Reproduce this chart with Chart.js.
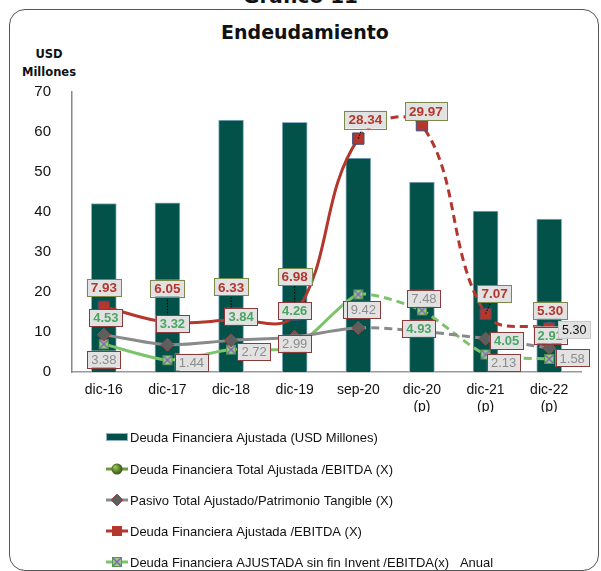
<!DOCTYPE html>
<html>
<head>
<meta charset="utf-8">
<script src="https://cdn.jsdelivr.net/npm/chart.js@4.4.1/dist/chart.umd.min.js"></script>
<style>
    html, body { margin: 0; padding: 0; background: #fff; overflow: hidden; }
    #wrap { position: relative; width: 601px; height: 571px; }
    #frame { position: absolute; left: 9px; top: 9px; width: 588px; height: 560px; border: 1.5px solid #555; border-radius: 16px; }
    #chart { position: absolute; left: 0; top: 0; }
    .txt { position: absolute; font-family: 'DejaVu Sans', sans-serif; font-weight: bold; color: #111; white-space: nowrap; }
    #topTitle { left: 0; width: 601px; text-align: center; top: -14px; font-size: 20px; line-height: 20px; }
    #title { left: 10px; width: 590px; text-align: center; top: 21px; font-size: 19px; line-height: 22px; }
    #unit { left: 14px; width: 70px; text-align: center; top: 45px; font-size: 11.5px; line-height: 18px; }
</style>
</head>
<body>
<div id="wrap">
    <div id="frame"></div>
    <div class="txt" id="topTitle">Gráfico 11</div>
    <div class="txt" id="title">Endeudamiento</div>
    <div class="txt" id="unit">USD<br>Millones</div>
    <canvas id="chart" width="601" height="571"></canvas>
</div>
<script>
    const categories = ['dic-16', 'dic-17', 'dic-18', 'dic-19', 'sep-20', ['dic-20', '(p)'], ['dic-21', '(p)'], ['dic-22', '(p)']];
    const deudaUsd = [42.1, 42.3, 63.0, 62.4, 53.5, 47.5, 40.2, 38.2];
    const totalAjEbitda = [null, null, null, null, null, null, null, 5.30];
    const pasivoPatrimonio = [4.53, 3.32, 3.84, 4.26, 5.36, 4.93, 4.05, 2.91];
    const deudaEbitda = [7.93, 6.05, 6.33, 6.98, 28.34, 29.97, 7.07, 5.30];
    const sinInventEbitda = [3.38, 1.44, 2.72, 2.99, 9.42, 7.48, 2.13, 1.58];
    const legendNames = [
        'Deuda Financiera Ajustada (USD Millones)',
        'Deuda Financiera Total Ajustada /EBITDA (X)',
        'Pasivo Total Ajustado/Patrimonio Tangible (X)',
        'Deuda Financiera Ajustada /EBITDA (X)',
        'Deuda Financiera AJUSTADA sin fin Invent /EBITDA(x)   Anual'
    ];

    const FONT = "'Liberation Sans', Arial, sans-serif";
    const projected = ctx => ctx.p0DataIndex >= 4 ? [8, 5] : undefined;

    function crossMarker() {
        const c = document.createElement('canvas');
        c.width = 12; c.height = 12;
        const g = c.getContext('2d');
        g.fillStyle = '#8fd27c';
        g.fillRect(1, 1, 10, 10);
        g.strokeStyle = '#5b9a4c';
        g.lineWidth = 1;
        g.strokeRect(1.5, 1.5, 9, 9);
        g.strokeStyle = '#8a5cc0';
        g.lineWidth = 1.4;
        g.beginPath();
        g.moveTo(2, 2); g.lineTo(10, 10);
        g.moveTo(10, 2); g.lineTo(2, 10);
        g.stroke();
        return c;
    }
    const xMark = crossMarker();

    // label boxes: offsets from the point, per dataset index
    const labelSets = [
        { ds: 2, font: 'bold 13px ' + FONT, color: '#4ba562', border: '#8b3a3a',
          off: [[2, -17], [5, -21], [10, -24], [0, -26], [1, -18], [-3, -3], [21, 2], [1, -13]] },
        { ds: 4, font: '13px ' + FONT, color: '#8c8c8c', border: '#8b3a3a',
          off: [[0, 15], [24, 2], [23, 2], [0, -4], [5, 15], [2, -12], [18, 8], [23, -1]] },
        { ds: 3, font: 'bold 13.5px ' + FONT, color: '#b3372c', border: '#7b8a4b', leader: true,
          off: [[0, -19], [0, -34], [0, -33], [0, -38], [7, -19], [4, -14], [9, -20], [1, -18]] },
        { ds: 1, font: '12.5px ' + FONT, color: '#111', border: '#c8c8c8',
          off: [[0, 0], [0, 0], [0, 0], [0, 0], [0, 0], [0, 0], [0, 0], [25, 1]] }
    ];

    const labelPlugin = {
        id: 'boxLabels',
        afterDatasetsDraw(chart) {
            const ctx = chart.ctx;
            const items = [];
            labelSets.forEach(set => {
                const meta = chart.getDatasetMeta(set.ds);
                const data = chart.data.datasets[set.ds].data;
                meta.data.forEach((pt, i) => {
                    if (data[i] === null || data[i] === undefined) return;
                    items.push({ set, px: pt.x, py: pt.y, x: pt.x + set.off[i][0], y: pt.y + set.off[i][1], text: data[i].toFixed(2) });
                });
            });
            ctx.save();
            // dotted leader lines
            ctx.strokeStyle = '#000';
            ctx.lineWidth = 1;
            ctx.setLineDash([1.5, 1.5]);
            items.forEach(it => {
                if (!it.set.leader) return;
                if (Math.hypot(it.x - it.px, it.y - it.py) < 20) return;
                ctx.beginPath();
                ctx.moveTo(it.px, it.py);
                ctx.lineTo(it.x, it.y);
                ctx.stroke();
            });
            ctx.setLineDash([]);
            items.forEach(it => {
                ctx.font = it.set.font;
                const w = ctx.measureText(it.text).width + 8;
                const h = it.text.length > 4 ? 18 : 17;
                ctx.fillStyle = '#e2e2e2';
                ctx.fillRect(it.x - w / 2, it.y - h / 2, w, h);
                ctx.strokeStyle = it.set.border;
                ctx.lineWidth = 1;
                ctx.strokeRect(Math.round(it.x - w / 2) + 0.5, Math.round(it.y - h / 2) + 0.5, Math.round(w), h);
                ctx.fillStyle = it.set.color;
                ctx.textAlign = 'center';
                ctx.textBaseline = 'middle';
                ctx.fillText(it.text, it.x, it.y + 1);
            });
            ctx.restore();
        }
    };

    const legendPlugin = {
        id: 'stackLegend',
        afterDraw(chart) {
            const ctx = chart.ctx;
            const x0 = 106, x1 = 128, cx = 117;
            const rows = [437, 469, 500, 531, 562];
            ctx.save();
            // bar swatch
            ctx.fillStyle = '#02524a';
            ctx.fillRect(x0, rows[0] - 4, x1 - x0, 8);
            ctx.strokeStyle = '#8fb0c8';
            ctx.lineWidth = 1;
            ctx.strokeRect(x0 + 0.5, rows[0] - 3.5, x1 - x0 - 1, 7);
            // line swatches
            const lines = [[rows[1], '#6f9a3a'], [rows[2], '#8a8a8a'], [rows[3], '#b3372c'], [rows[4], '#7dc36b']];
            lines.forEach(([y, c]) => {
                ctx.strokeStyle = c;
                ctx.lineWidth = 3;
                ctx.beginPath();
                ctx.moveTo(x0, y);
                ctx.lineTo(x1, y);
                ctx.stroke();
            });
            const grad = ctx.createRadialGradient(cx - 2, rows[1] - 2, 1, cx, rows[1], 6);
            grad.addColorStop(0, '#8fc04a');
            grad.addColorStop(1, '#2f4a1a');
            ctx.fillStyle = grad;
            ctx.beginPath();
            ctx.arc(cx, rows[1], 5.5, 0, Math.PI * 2);
            ctx.fill();
            ctx.fillStyle = '#5e5e5e';
            ctx.strokeStyle = '#a04848';
            ctx.lineWidth = 1;
            ctx.beginPath();
            ctx.moveTo(cx - 6, rows[2]); ctx.lineTo(cx, rows[2] - 6); ctx.lineTo(cx + 6, rows[2]); ctx.lineTo(cx, rows[2] + 6);
            ctx.closePath();
            ctx.fill();
            ctx.stroke();
            ctx.fillStyle = '#b3372c';
            ctx.fillRect(cx - 5, rows[3] - 5, 10, 10);
            ctx.drawImage(xMark, cx - 6, rows[4] - 6);
            // names
            ctx.fillStyle = '#111';
            ctx.font = '13px ' + FONT;
            ctx.textAlign = 'left';
            ctx.textBaseline = 'middle';
            legendNames.forEach((name, i) => ctx.fillText(name, 130, rows[i] + 1));
            ctx.restore();
        }
    };

    new Chart(document.getElementById('chart'), {
        type: 'bar',
        data: {
            labels: categories,
            datasets: [
                {
                    label: legendNames[0],
                    data: deudaUsd,
                    backgroundColor: '#02524a',
                    borderColor: '#8fb0c8',
                    borderWidth: 1,
                    barThickness: 25,
                    order: 10,
                    yAxisID: 'y'
                },
                {
                    type: 'line',
                    label: legendNames[1],
                    data: totalAjEbitda,
                    borderColor: '#6f9a3a',
                    backgroundColor: '#4a6a2a',
                    pointRadius: 5,
                    borderWidth: 3,
                    order: 5,
                    yAxisID: 'y2'
                },
                {
                    type: 'line',
                    label: legendNames[2],
                    data: pasivoPatrimonio,
                    borderColor: '#8a8a8a',
                    borderWidth: 3,
                    tension: 0.3,
                    pointStyle: 'rectRot',
                    pointRadius: 6.5,
                    pointBackgroundColor: '#5e5e5e',
                    pointBorderColor: '#a04848',
                    pointBorderWidth: 1,
                    segment: { borderDash: projected },
                    order: 3,
                    yAxisID: 'y2'
                },
                {
                    type: 'line',
                    label: legendNames[3],
                    data: deudaEbitda,
                    borderColor: '#b3372c',
                    borderWidth: 3,
                    tension: 0.4,
                    pointStyle: 'rect',
                    pointRadius: 8,
                    pointBackgroundColor: '#b3372c',
                    pointBorderColor: '#3d4f7c',
                    pointBorderWidth: 1,
                    segment: { borderDash: projected },
                    order: 2,
                    yAxisID: 'y2'
                },
                {
                    type: 'line',
                    label: legendNames[4],
                    data: sinInventEbitda,
                    borderColor: '#7dc36b',
                    borderWidth: 3,
                    tension: 0.2,
                    pointStyle: xMark,
                    segment: { borderDash: projected },
                    order: 4,
                    yAxisID: 'y2'
                }
            ]
        },
        options: {
            responsive: false,
            animation: false,
            layout: { padding: { left: 0, top: 92, right: 20, bottom: 159 } },
            plugins: {
                legend: { display: false },
                title: { display: false },
                tooltip: { enabled: false }
            },
            scales: {
                x: {
                    grid: { display: false, drawTicks: false },
                    border: { color: '#999', width: 1.5 },
                    ticks: { color: '#111', font: { family: FONT, size: 14 }, padding: 10, maxRotation: 0 },
                    afterFit: s => { s.height = 40; }
                },
                y: {
                    position: 'left',
                    min: 0,
                    max: 70,
                    grid: { display: false, drawTicks: false },
                    border: { color: '#888', width: 1.5 },
                    ticks: { stepSize: 10, color: '#111', font: { family: FONT, size: 15 }, padding: 21 },
                    afterFit: s => { s.width = 72; }
                },
                y2: { display: false, min: 0, max: 34 }
            }
        },
        plugins: [labelPlugin, legendPlugin]
    });
</script>
</body>
</html>
